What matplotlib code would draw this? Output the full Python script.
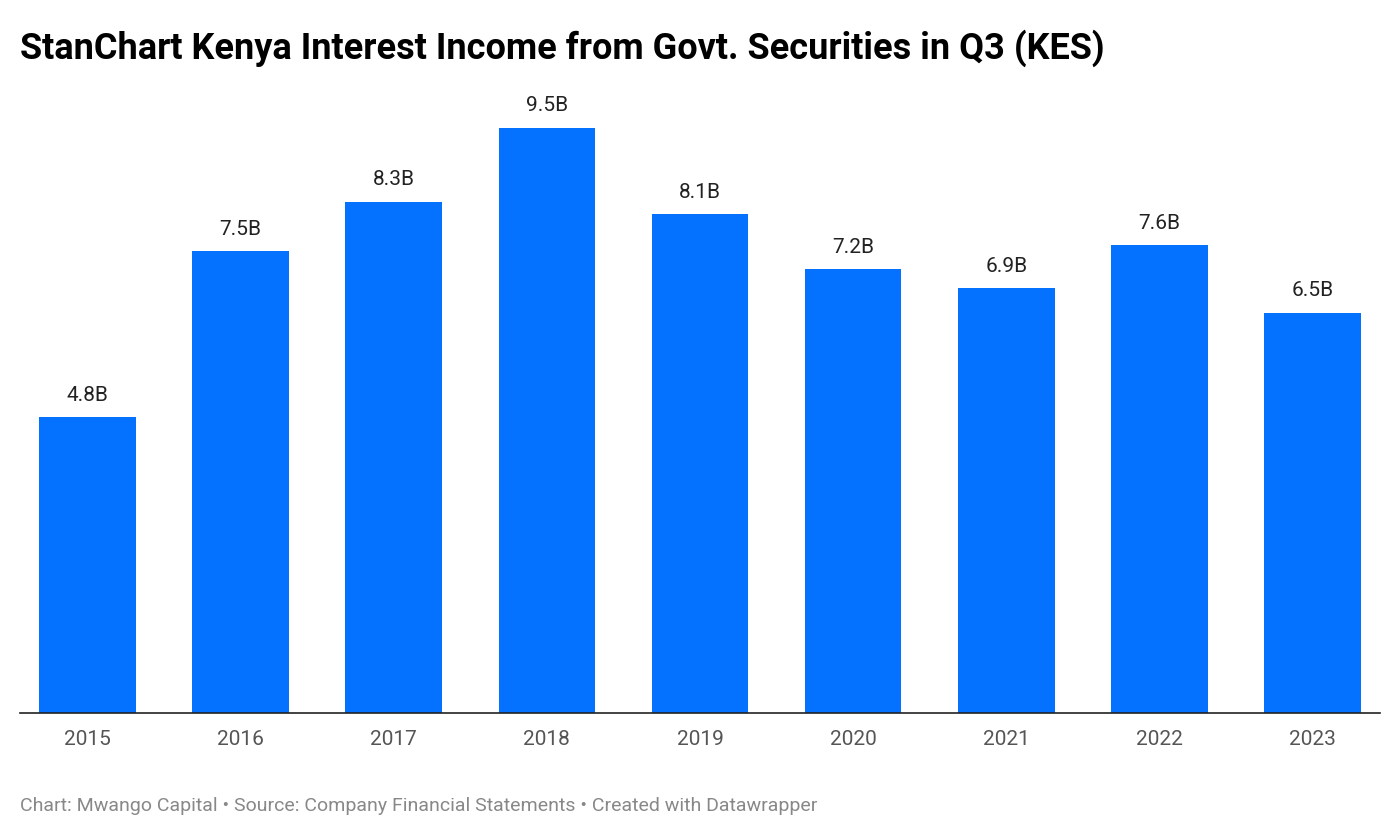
import matplotlib.pyplot as plt

years = ["2015", "2016", "2017", "2018", "2019", "2020", "2021", "2022", "2023"]
values = [4.8, 7.5, 8.3, 9.5, 8.1, 7.2, 6.9, 7.6, 6.5]
labels = ["4.8B", "7.5B", "8.3B", "9.5B", "8.1B", "7.2B", "6.9B", "7.6B", "6.5B"]

plt.rcParams['font.family'] = ['Roboto', 'DejaVu Sans']
fig = plt.figure(figsize=(14, 8.4), dpi=100)
ax = fig.add_axes([20/1400, 127/840, 1360/1400, 616/840])

x = range(len(years))
ax.bar(x, values, width=0.63, color="#0571ff")
for i, v in enumerate(values):
    ax.text(i, v + 0.2, labels[i], ha="center", va="bottom", fontsize=15, color="#222222")

ax.set_xlim(-0.44, 8.44)
ax.set_ylim(0, 10)
ax.set_xticks(list(x))
ax.set_xticklabels(years, fontsize=15, color="#555555")
ax.tick_params(axis="x", length=0, pad=12)
ax.set_yticks([])
for s in ["top", "right", "left"]:
    ax.spines[s].set_visible(False)
ax.spines["bottom"].set_color("#222222")
ax.spines["bottom"].set_linewidth(1.2)

fig.text(20/1400, 1 - 48/840, "StanChart Kenya Interest Income from Govt. Securities in Q3 (KES)",
         fontsize=26, fontweight="bold", va="center", ha="left", color="#000000")
fig.text(20/1400, 1 - 806/840, "Chart: Mwango Capital • Source: Company Financial Statements • Created with Datawrapper",
         fontsize=14, va="center", ha="left", color="#888888")

fig.savefig("out.png")
